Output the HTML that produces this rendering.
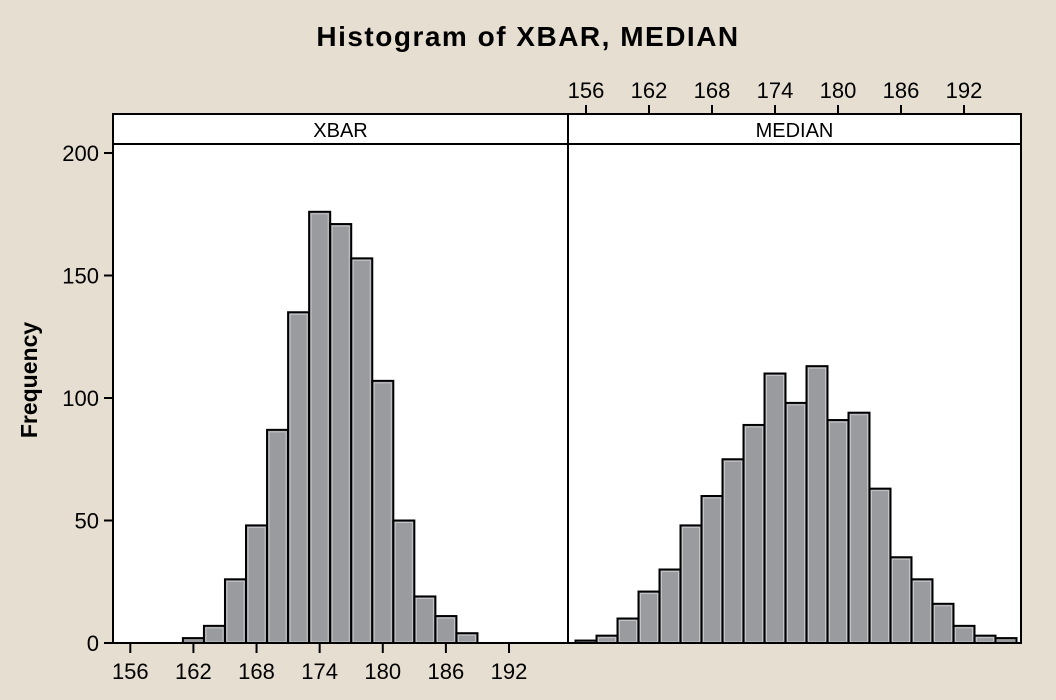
<!DOCTYPE html>
<html><head><meta charset="utf-8"><style>
body{margin:0;background:#e6ded1;}
svg{display:block;font-family:"Liberation Sans","DejaVu Sans",sans-serif;}
</style></head><body>
<svg id="chart" width="1056" height="700" viewBox="0 0 1056 700">
<rect x="0" y="0" width="1056" height="700" fill="#e6ded1"/>
<text x="528" y="46" text-anchor="middle" font-size="28" font-weight="bold" letter-spacing="1.5">Histogram of XBAR, MEDIAN</text>
<text transform="translate(37,380) rotate(-90)" text-anchor="middle" font-size="23" font-weight="bold">Frequency</text>
<g id="panels"></g>
</svg>
<script>
const xbarBins = [161,163,165,167,169,171,173,175,177,179,181,183,185,187];
const xbarCounts = [2,7,26,48,87,135,176,171,157,107,50,19,11,4];
const medianBins = [155,157,159,161,163,165,167,169,171,173,175,177,179,181,183,185,187,189,191,193,195];
const medianCounts = [1,3,10,21,30,48,60,75,89,110,98,113,91,94,63,35,26,16,7,3,2];
const xTicks = [156,162,168,174,180,186,192];
const yTicks = [0,50,100,150,200];
const binWidth = 2;

const NS='http://www.w3.org/2000/svg';
const g=document.getElementById('panels');
const plotTop=144, plotBottom=643, stripTop=114;
const leftX0=113, midX=568, rightX1=1021;
function y(v){return 643 - v*2.45;}
function xL(v){return 130.3 + (v-156)*10.52;}
function xR(v){return 586 + (v-156)*10.5;}
function mk(tag,attrs,parent){const e=document.createElementNS(NS,tag);for(const k in attrs)e.setAttribute(k,attrs[k]);(parent||g).appendChild(e);return e;}

let p=mk('rect',{x:leftX0,y:plotTop,width:midX-leftX0,height:plotBottom-plotTop,fill:'#fff'});


p=mk('rect',{x:midX,y:plotTop,width:rightX1-midX,height:plotBottom-plotTop,fill:'#fff'});


p=mk('rect',{x:leftX0,y:stripTop,width:midX-leftX0,height:plotTop-stripTop,fill:'#fff',stroke:'#000','stroke-width':2});


p=mk('rect',{x:midX,y:stripTop,width:rightX1-midX,height:plotTop-stripTop,fill:'#fff',stroke:'#000','stroke-width':2});


let t=mk('text',{x:(leftX0+midX)/2,y:137,'text-anchor':'middle','font-size':20});t.textContent='XBAR';


t=mk('text',{x:(midX+rightX1)/2,y:137,'text-anchor':'middle','font-size':20});t.textContent='MEDIAN';



function bars(bins,counts,xf,name){
  bins.forEach((b,i)=>{
    const x0=xf(b), x1=xf(b+binWidth), yt=y(counts[i]);
    const r=mk('rect',{x:x0,y:yt,width:x1-x0,height:plotBottom-yt,fill:'#9a9b9f',stroke:'#000','stroke-width':2});
    
    
    if(plotBottom-yt>5){
      const h=mk('rect',{x:x0+2,y:yt+2,width:x1-x0-4,height:plotBottom-yt-3,fill:'none',stroke:'#c4c5c8','stroke-width':1});
      
      
    }
  });
}
bars(xbarBins,xbarCounts,xL,'xbar');
bars(medianBins,medianCounts,xR,'median');

p=mk('rect',{x:leftX0,y:plotTop,width:midX-leftX0,height:plotBottom-plotTop,fill:'none',stroke:'#000','stroke-width':2});


p=mk('rect',{x:midX,y:plotTop,width:rightX1-midX,height:plotBottom-plotTop,fill:'none',stroke:'#000','stroke-width':2});


p=mk('line',{x1:leftX0,y1:plotBottom,x2:midX,y2:plotBottom,stroke:'#000','stroke-width':2});



yTicks.forEach(v=>{
  const l=mk('line',{x1:104,x2:leftX0,y1:y(v),y2:y(v),stroke:'#000','stroke-width':2});
  
  
  const tx=mk('text',{x:99,y:y(v)+8,'text-anchor':'end','font-size':22});tx.textContent=v;
  
  
});
xTicks.forEach(v=>{
  const l=mk('line',{x1:xL(v),x2:xL(v),y1:plotBottom,y2:plotBottom+10,stroke:'#000','stroke-width':2});
  
  
  const tx=mk('text',{x:xL(v),y:679,'text-anchor':'middle','font-size':22});tx.textContent=v;
  
  
});
xTicks.forEach(v=>{
  const l=mk('line',{x1:xR(v),x2:xR(v),y1:stripTop-9,y2:stripTop,stroke:'#000','stroke-width':2});
  
  
  const tx=mk('text',{x:xR(v),y:98,'text-anchor':'middle','font-size':22});tx.textContent=v;
  
  
});
</script>
</body></html>
